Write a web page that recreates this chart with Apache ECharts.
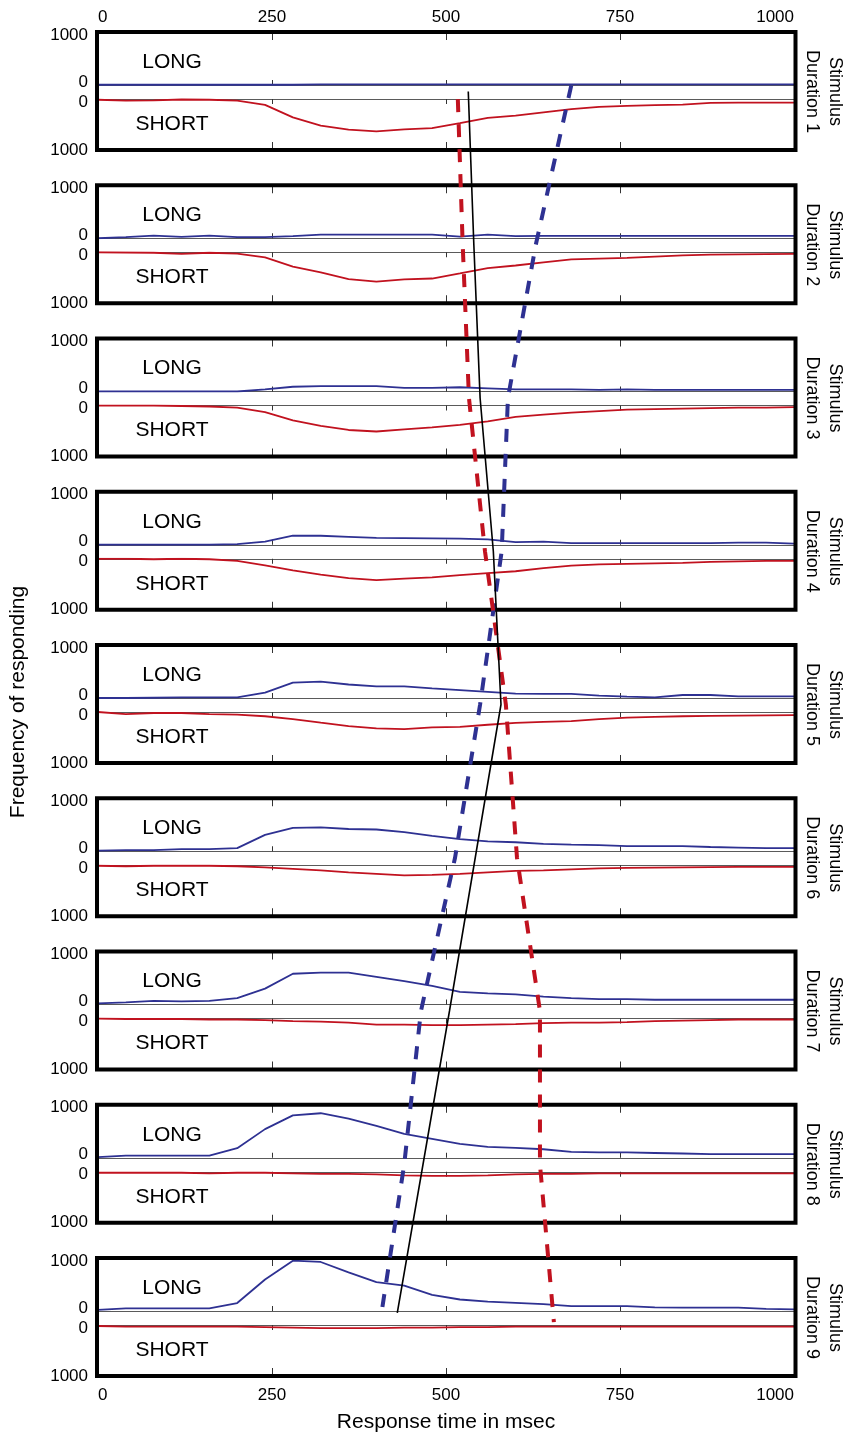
<!DOCTYPE html>
<html>
<head>
<meta charset="utf-8">
<title>Response time by stimulus duration</title>
<script src="https://cdn.jsdelivr.net/npm/echarts@6/dist/echarts.min.js"></script>
<style>
  html, body { margin: 0; padding: 0; background: #fff; }
  #chart { width: 845px; height: 1434px; }
</style>
</head>
<body>
<div id="chart"></div>
<script>
// Response-time bins (msec)
const rtMs = [0, 40, 80, 120, 160, 200, 240, 280, 320, 360, 400, 440, 480, 520, 560, 600, 640, 680, 720, 760, 800, 840, 880, 920, 960, 1000];

// Frequency of "LONG" responses, one array per stimulus duration
const LONG_1 = [5, 5, 5, 5, 5, 5, 5, 5, 10, 10, 10, 10, 10, 10, 10, 10, 10, 10, 10, 10, 10, 10, 10, 10, 10, 10];
const LONG_2 = [0, 20, 50, 25, 50, 20, 20, 40, 70, 70, 70, 70, 70, 30, 70, 40, 45, 45, 45, 45, 45, 45, 45, 45, 45, 45];
const LONG_3 = [0, 0, 0, 0, 0, 0, 40, 90, 100, 100, 100, 70, 70, 80, 60, 40, 40, 40, 30, 40, 30, 30, 30, 30, 30, 30];
const LONG_4 = [0, 0, 0, 0, 0, 10, 60, 170, 170, 150, 130, 125, 120, 115, 100, 50, 60, 30, 30, 30, 30, 30, 30, 40, 40, 20];
const LONG_5 = [0, 0, 5, 10, 10, 10, 100, 290, 310, 255, 220, 220, 180, 150, 115, 82, 76, 76, 44, 25, 13, 57, 57, 32, 32, 32];
const LONG_6 = [10, 20, 20, 40, 40, 60, 310, 440, 450, 420, 410, 360, 290, 230, 185, 170, 140, 125, 115, 95, 95, 95, 80, 70, 60, 60];
const LONG_7 = [20, 40, 70, 60, 70, 120, 300, 580, 600, 600, 520, 440, 350, 240, 210, 190, 150, 120, 100, 100, 90, 90, 90, 90, 90, 90];
const LONG_8 = [10, 40, 40, 40, 40, 180, 540, 800, 840, 740, 600, 450, 355, 260, 205, 185, 160, 110, 100, 100, 90, 80, 70, 70, 70, 70];
const LONG_9 = [20, 50, 50, 50, 50, 150, 595, 950, 925, 730, 545, 478, 304, 217, 175, 155, 130, 93, 93, 93, 70, 63, 63, 63, 40, 32];

// Frequency of "SHORT" responses, one array per stimulus duration
const SHORT_1 = [15, 30, 25, 10, 15, 30, 115, 360, 520, 600, 635, 595, 570, 475, 370, 325, 263, 200, 155, 135, 120, 110, 77, 70, 70, 70];
const SHORT_2 = [0, 5, 10, 30, 10, 25, 100, 280, 395, 525, 575, 530, 515, 415, 310, 260, 200, 140, 125, 110, 85, 60, 45, 40, 35, 33];
const SHORT_3 = [0, 0, 0, 10, 20, 40, 130, 290, 400, 480, 510, 470, 430, 380, 310, 225, 180, 140, 110, 80, 70, 60, 50, 40, 40, 30];
const SHORT_4 = [0, 0, 10, 0, 10, 40, 130, 230, 310, 380, 420, 390, 365, 320, 280, 245, 185, 135, 110, 100, 90, 80, 60, 50, 40, 40];
const SHORT_5 = [0, 40, 20, 20, 40, 50, 83, 140, 210, 275, 320, 335, 300, 290, 250, 215, 195, 180, 140, 110, 95, 83, 75, 70, 65, 63];
const SHORT_6 = [10, 20, 10, 10, 10, 20, 40, 70, 100, 140, 170, 200, 190, 170, 140, 110, 100, 80, 60, 50, 45, 40, 35, 30, 30, 30];
const SHORT_7 = [0, 10, 10, 10, 20, 20, 30, 50, 60, 80, 120, 120, 130, 130, 120, 110, 90, 80, 80, 70, 50, 40, 30, 20, 20, 20];
const SHORT_8 = [20, 20, 20, 20, 30, 20, 20, 30, 40, 40, 50, 70, 80, 80, 70, 50, 40, 40, 30, 30, 30, 30, 30, 30, 30, 30];
const SHORT_9 = [20, 30, 30, 30, 30, 30, 40, 50, 60, 60, 60, 50, 50, 40, 40, 30, 30, 30, 30, 30, 30, 30, 30, 30, 30, 30];

// Boundary traces running down through the duration panels (time in msec, panel row)
const blueBoundaryMs  = [680, 629, 589, 580, 549, 513, 464, 440, 408];
const blueBoundaryRow = [-0.04, 1, 2, 3, 4, 5, 6, 7, 7.95];
const redBoundaryMs   = [517, 524, 533, 556, 586, 602, 635, 635, 655];
const redBoundaryRow  = [0.05, 1, 2, 3, 4, 5, 6, 7, 8.03];
const medianMs        = [532, 540, 549, 568, 579, 542, 505, 467, 430];
const medianRow       = [0, 1, 2, 3, 4, 5, 6, 7, 7.97];

const durationLabels = ['1', '2', '3', '4', '5', '6', '7', '8', '9'];

const LONG = [LONG_1, LONG_2, LONG_3, LONG_4, LONG_5, LONG_6, LONG_7, LONG_8, LONG_9];
const SHORT = [SHORT_1, SHORT_2, SHORT_3, SHORT_4, SHORT_5, SHORT_6, SHORT_7, SHORT_8, SHORT_9];

// Layout
const FONT = '"Liberation Sans", Arial, Helvetica, sans-serif';
const PANEL_TOP0 = 32, PANEL_STEP = 153.25;
const LONG_H = 53, SHORT_OFF = 67, SHORT_H = 51;
const PLOT_LEFT = 98, PLOT_W = 696;
const BLUE = '#2E3192', RED = '#C1121F', ZERO_LINE = '#5a5a5a';

const grid = [], xAxis = [], yAxis = [], series = [], graphic = [];

function xAx(gridIndex, position, opts) {
  return Object.assign({
    gridIndex, type: 'value', min: 0, max: 1000, interval: 250, position,
    axisLine: { show: false, onZero: false },
    axisTick: { show: true, inside: true, length: 8, lineStyle: { color: '#333', width: 1 } },
    axisLabel: { show: false },
    splitLine: { show: false }
  }, opts);
}

const edgeLabel = (margin) => ({
  show: true, fontSize: 17, color: '#000', fontFamily: FONT, margin,
  formatter: v => String(v),
  alignMinLabel: 'left', alignMaxLabel: 'right'
});

const richBase = { fontSize: 17, color: '#000', fontFamily: FONT };

for (let i = 0; i < 9; i++) {
  const top = PANEL_TOP0 + i * PANEL_STEP;

  // upper half: LONG responses
  const gL = grid.length;
  grid.push({ left: PLOT_LEFT, width: PLOT_W, top: top, height: LONG_H });
  const xLong = xAxis.length;
  xAxis.push(xAx(gL, 'bottom', {
    axisLine: { show: true, onZero: false, lineStyle: { color: ZERO_LINE, width: 1 } },
    axisTick: { show: true, inside: true, length: 5, lineStyle: { color: '#333', width: 1 } }
  }));
  xAxis.push(xAx(gL, 'top', i === 0 ? { axisLabel: edgeLabel(6) } : {}));
  const yLong = yAxis.length;
  yAxis.push({
    gridIndex: gL, type: 'value', min: 0, max: 1000, interval: 1000,
    axisLine: { show: false }, axisTick: { show: false }, splitLine: { show: false },
    axisLabel: {
      margin: 10, fontSize: 17, color: '#000', fontFamily: FONT,
      formatter: v => v === 0 ? '{lo|0}' : '{hi|' + v + '}',
      rich: {
        lo: Object.assign({ padding: [0, 0, 6, 0] }, richBase),
        hi: Object.assign({ padding: [6, 0, 0, 0] }, richBase)
      }
    }
  });

  // lower half: SHORT responses (mirrored downward)
  const gS = grid.length;
  grid.push({ left: PLOT_LEFT, width: PLOT_W, top: top + SHORT_OFF, height: SHORT_H });
  const xShort = xAxis.length;
  xAxis.push(xAx(gS, 'top', {
    axisLine: { show: true, onZero: false, lineStyle: { color: ZERO_LINE, width: 1 } },
    axisTick: { show: true, inside: true, length: 5, lineStyle: { color: '#333', width: 1 } }
  }));
  xAxis.push(xAx(gS, 'bottom', i === 8 ? { axisLabel: edgeLabel(11) } : {}));
  const yShort = yAxis.length;
  yAxis.push({
    gridIndex: gS, type: 'value', min: 0, max: 1000, interval: 1000, inverse: true,
    axisLine: { show: false }, axisTick: { show: false }, splitLine: { show: false },
    axisLabel: {
      margin: 10, fontSize: 17, color: '#000', fontFamily: FONT,
      formatter: v => v === 0 ? '{lo|0}' : '{hi|' + v + '}',
      rich: {
        lo: Object.assign({ padding: [6, 0, 0, 0] }, richBase),
        hi: Object.assign({ padding: [0, 0, 0, 0] }, richBase)
      }
    }
  });

  series.push({
    type: 'line', name: 'LONG ' + durationLabels[i], xAxisIndex: xLong, yAxisIndex: yLong,
    data: rtMs.map((t, k) => [t, LONG[i][k]]),
    showSymbol: false, symbol: 'none', silent: true, z: 3,
    lineStyle: { color: BLUE, width: 1.8 }, itemStyle: { color: BLUE }
  });
  series.push({
    type: 'line', name: 'SHORT ' + durationLabels[i], xAxisIndex: xShort, yAxisIndex: yShort,
    data: rtMs.map((t, k) => [t, SHORT[i][k]]),
    showSymbol: false, symbol: 'none', silent: true, z: 3,
    lineStyle: { color: RED, width: 1.8 }, itemStyle: { color: RED }
  });

  // panel frame
  graphic.push({
    type: 'rect', z: 5, silent: true,
    shape: { x: 97, y: top, width: 698.5, height: 118 },
    style: { fill: 'none', stroke: '#000', lineWidth: 4 }
  });
  // LONG / SHORT captions
  graphic.push({
    type: 'text', z: 6, x: 172, y: top + 30,
    style: { text: 'LONG', fontSize: 21, fontFamily: FONT, fill: '#000',
             align: 'center', verticalAlign: 'middle', textAlign: 'center', textVerticalAlign: 'middle' }
  });
  graphic.push({
    type: 'text', z: 6, x: 172, y: top + 92,
    style: { text: 'SHORT', fontSize: 21, fontFamily: FONT, fill: '#000',
             align: 'center', verticalAlign: 'middle', textAlign: 'center', textVerticalAlign: 'middle' }
  });
  // Stimulus duration caption on the right
  graphic.push({
    type: 'text', z: 6, x: 823.5, y: top + 59.5, rotation: -Math.PI / 2,
    style: { text: 'Stimulus\nDuration ' + durationLabels[i], fontSize: 18, lineHeight: 23, fontFamily: FONT, fill: '#000',
             align: 'center', verticalAlign: 'middle', textAlign: 'center', textVerticalAlign: 'middle' }
  });
}

// Full-height grid for the boundary traces crossing all panels
const gO = grid.length;
grid.push({ left: PLOT_LEFT, width: PLOT_W, top: PANEL_TOP0 + 59.5 - 0.5 * PANEL_STEP, height: 9 * PANEL_STEP });
const xO = xAxis.length;
xAxis.push({ gridIndex: gO, type: 'value', min: 0, max: 1000, show: false });
const yO = yAxis.length;
yAxis.push({ gridIndex: gO, type: 'value', min: -0.5, max: 8.5, inverse: true, show: false });

const pair = (ms, rows) => ms.map((v, k) => [v, rows[k]]);
series.push({
  type: 'line', xAxisIndex: xO, yAxisIndex: yO, data: pair(blueBoundaryMs, blueBoundaryRow),
  showSymbol: false, symbol: 'none', silent: true, z: 10, clip: false,
  lineStyle: { color: BLUE, width: 4, type: [13, 12], cap: 'butt' }
});
series.push({
  type: 'line', xAxisIndex: xO, yAxisIndex: yO, data: pair(redBoundaryMs, redBoundaryRow),
  showSymbol: false, symbol: 'none', silent: true, z: 10, clip: false,
  lineStyle: { color: RED, width: 4, type: [13, 12], cap: 'butt' }
});
series.push({
  type: 'line', xAxisIndex: xO, yAxisIndex: yO, data: pair(medianMs, medianRow),
  showSymbol: false, symbol: 'none', silent: true, z: 11, clip: false,
  lineStyle: { color: '#000', width: 1.6 }
});

// Axis titles
graphic.push({
  type: 'text', z: 6, x: 446, y: 1422,
  style: { text: 'Response time in msec', fontSize: 21, fontFamily: FONT, fill: '#000',
           align: 'center', verticalAlign: 'middle', textAlign: 'center', textVerticalAlign: 'middle' }
});
graphic.push({
  type: 'text', z: 6, x: 18, y: 702, rotation: Math.PI / 2,
  style: { text: 'Frequency of responding', fontSize: 21, fontFamily: FONT, fill: '#000',
           align: 'center', verticalAlign: 'middle', textAlign: 'center', textVerticalAlign: 'middle' }
});

const chart = echarts.init(document.getElementById('chart'), null, { renderer: 'canvas' });
chart.setOption({
  animation: false,
  backgroundColor: '#fff',
  grid, xAxis, yAxis, series, graphic
});
</script>
</body>
</html>
